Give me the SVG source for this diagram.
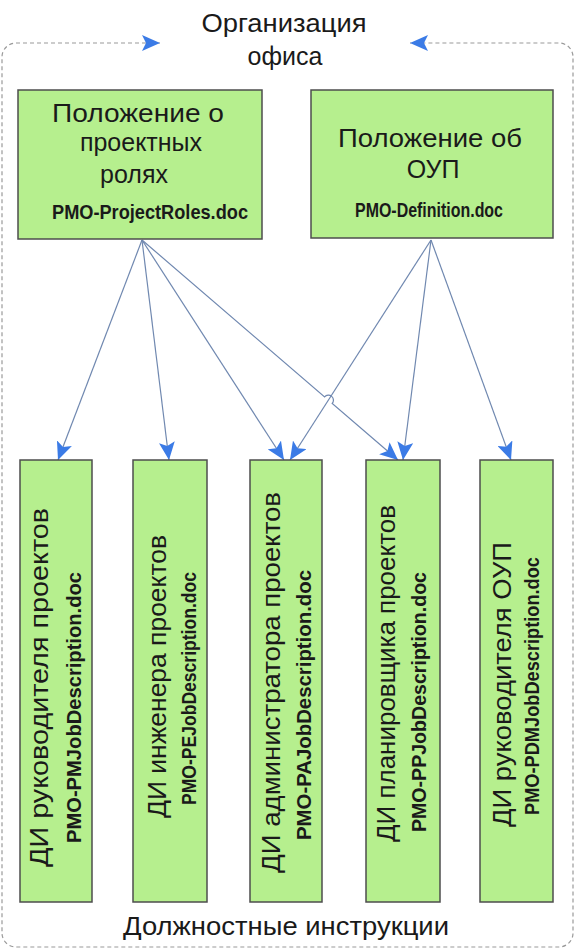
<svg xmlns="http://www.w3.org/2000/svg" width="577" height="951" viewBox="0 0 577 951">
<style>
.box{fill:#b6ef8e;stroke:#4d4d4d;stroke-width:1.5}
.t{font-family:"Liberation Sans",Arial,sans-serif;font-size:25px;fill:#1a1a1a;text-anchor:middle}
.p{font-family:"Liberation Sans",Arial,sans-serif;font-size:21px;font-weight:bold;fill:#1a1a1a;text-anchor:middle}
.q{font-family:"Liberation Sans",Arial,sans-serif;font-size:20px;font-weight:bold;fill:#1a1a1a;text-anchor:middle}
.c{fill:none;stroke:#7088b0;stroke-width:1.2;marker-end:url(#ah)}
.d{fill:none;stroke:#9a9a9a;stroke-width:1.2;stroke-dasharray:4 3}
</style>
<defs>
<marker id="ah" viewBox="0 0 18 16" refX="18" refY="8" markerWidth="18" markerHeight="16" markerUnits="userSpaceOnUse" orient="auto">
<path d="M0,0 L18,8 L0,16 L4,8 z" fill="#3b7be6"/>
</marker>
<marker id="dh" viewBox="0 0 18 16" refX="18" refY="8" markerWidth="18" markerHeight="16" markerUnits="userSpaceOnUse" orient="auto-start-reverse">
<path d="M0,0 L18,8 L0,16 L4,8 z" fill="#3b7be6"/>
</marker>
</defs>

<g id="office">
<path class="d" d="M160,43 L16,43 A14,14 0 0 0 2,57 L2,933 A14,14 0 0 0 16,947 L559,947 A14,14 0 0 0 573,933 L573,57 A14,14 0 0 0 559,43 L410,43" marker-start="url(#dh)" marker-end="url(#dh)"/>
<text class="t" x="284" y="32" textLength="165" lengthAdjust="spacingAndGlyphs">Организация</text>
<text class="t" x="285" y="65">офиса</text>
<text class="t" x="286" y="935" textLength="326" lengthAdjust="spacingAndGlyphs">Должностные инструкции</text>
</g>

<g id="connectors">
<path class="c" d="M142,240 L58,460"/>
<path class="c" d="M142,240 L169,460"/>
<path class="c" d="M142,240 L284,460"/>
<path class="c" d="M142,240 L324.6,396.9 A5,5 0 0 1 332.2,403.5 L398,460"/>
<path class="c" d="M431,240 L290,460"/>
<path class="c" d="M431,240 L403,460"/>
<path class="c" d="M431,240 L511,460"/>
</g>

<g id="roles">
<rect class="box" x="18" y="90" width="244" height="149"/>
<text class="t" x="138" y="122" textLength="172" lengthAdjust="spacingAndGlyphs">Положение о</text>
<text class="t" x="141" y="151">проектных</text>
<text class="t" x="134" y="183">ролях</text>
<text class="p" x="150" y="219" textLength="196" lengthAdjust="spacingAndGlyphs">PMO-ProjectRoles.doc</text>
</g>

<g id="definition">
<rect class="box" x="311" y="90" width="242" height="148"/>
<text class="t" x="430" y="147" textLength="184" lengthAdjust="spacingAndGlyphs">Положение об</text>
<text class="t" x="433" y="178">ОУП</text>
<text class="p" x="429" y="217" textLength="148" lengthAdjust="spacingAndGlyphs">PMO-Definition.doc</text>
</g>

<g id="pm">
<rect class="box" x="20" y="460" width="72" height="442"/>
<text class="t" transform="translate(48,687.5) rotate(-90)" textLength="359" lengthAdjust="spacingAndGlyphs">ДИ руководителя проектов</text>
<text class="q" transform="translate(81,707.5) rotate(-90)" textLength="271" lengthAdjust="spacingAndGlyphs">PMO-PMJobDescription.doc</text>
</g>

<g id="pe">
<rect class="box" x="133" y="460" width="74" height="442"/>
<text class="t" transform="translate(166,676.5) rotate(-90)" textLength="283" lengthAdjust="spacingAndGlyphs">ДИ инженера проектов</text>
<text class="q" transform="translate(196,688.5) rotate(-90)" textLength="233" lengthAdjust="spacingAndGlyphs">PMO-PEJobDescription.doc</text>
</g>

<g id="pa">
<rect class="box" x="250" y="460" width="72" height="442"/>
<text class="t" transform="translate(280,682.5) rotate(-90)" textLength="381" lengthAdjust="spacingAndGlyphs">ДИ администратора проектов</text>
<text class="q" transform="translate(311,705) rotate(-90)" textLength="270" lengthAdjust="spacingAndGlyphs">PMO-PAJobDescription.doc</text>
</g>

<g id="pp">
<rect class="box" x="366" y="460" width="74" height="442"/>
<text class="t" transform="translate(395,673.5) rotate(-90)" textLength="337" lengthAdjust="spacingAndGlyphs">ДИ планировщика проектов</text>
<text class="q" transform="translate(426,702) rotate(-90)" textLength="260" lengthAdjust="spacingAndGlyphs">PMO-PPJobDescription.doc</text>
</g>

<g id="pdm">
<rect class="box" x="480" y="460" width="73" height="442"/>
<text class="t" transform="translate(511,684.5) rotate(-90)" textLength="285" lengthAdjust="spacingAndGlyphs">ДИ руководителя ОУП</text>
<text class="q" transform="translate(539,686) rotate(-90)" textLength="258" lengthAdjust="spacingAndGlyphs">PMO-PDMJobDescription.doc</text>
</g>
</svg>
